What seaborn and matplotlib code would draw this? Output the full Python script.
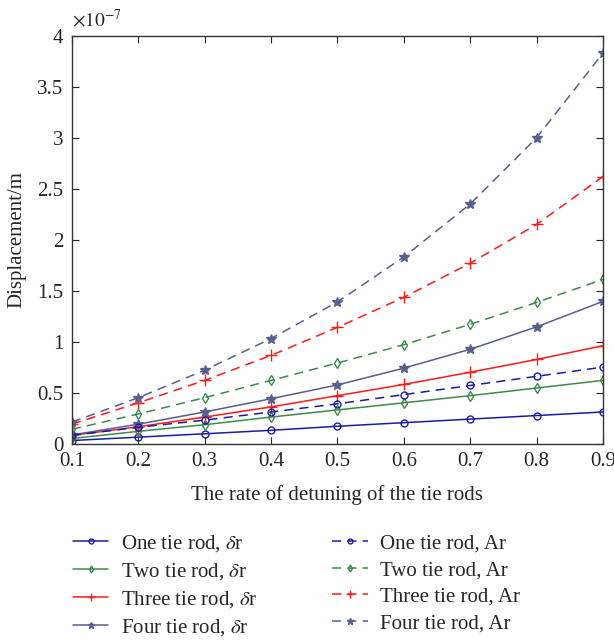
import pandas as pd
import seaborn as sns
import matplotlib
matplotlib.use('Agg')
import matplotlib.pyplot as plt

# detuning rate and displacement (units of 1e-7 m)
rate = [0.1, 0.2, 0.3, 0.4, 0.5, 0.6, 0.7, 0.8, 0.9]

one_dr = [0.03, 0.063, 0.096, 0.13, 0.17, 0.205, 0.24, 0.275, 0.31]
two_dr = [0.05, 0.12, 0.185, 0.26, 0.33, 0.40, 0.47, 0.545, 0.62]
three_dr = [0.08, 0.165, 0.26, 0.36, 0.47, 0.58, 0.70, 0.825, 0.96]
four_dr = [0.085, 0.19, 0.31, 0.44, 0.575, 0.74, 0.925, 1.145, 1.395]

one_ar = [0.08, 0.16, 0.23, 0.31, 0.39, 0.48, 0.57, 0.66, 0.75]
two_ar = [0.14, 0.29, 0.45, 0.62, 0.79, 0.97, 1.17, 1.385, 1.61]
three_ar = [0.19, 0.40, 0.62, 0.865, 1.14, 1.435, 1.77, 2.15, 2.62]
four_ar = [0.21, 0.45, 0.72, 1.03, 1.39, 1.83, 2.35, 3.00, 3.83]

names = ['One tie rod', 'Two tie rod', 'Three tie rod', 'Four tie rod']
colors = ['#1c1ca0', '#3d8a4e', '#ff1a1a', '#565f8e']
markers = ['o', 'd', '+', '*']
msizes = [5, 5, 8, 7]

sns.set_style('ticks')
plt.rcParams['font.family'] = ['Liberation Serif', 'DejaVu Serif']
plt.rcParams['mathtext.fontset'] = 'stix'
plt.rcParams['xtick.direction'] = 'in'
plt.rcParams['ytick.direction'] = 'in'

fig = plt.figure(figsize=(6.14, 6.41), dpi=100)
ax = fig.add_axes([0.117, 0.308, 0.865, 0.636])

for series, style, suffix in [([one_dr, two_dr, three_dr, four_dr], '-', r'$\delta$r'),
                              ([one_ar, two_ar, three_ar, four_ar], (0, (6, 4)), 'Ar')]:
    for i, vals in enumerate(series):
        df = pd.DataFrame({'rate': rate, 'disp': vals})
        filled = markers[i] == '*'
        sns.lineplot(data=df, x='rate', y='disp', ax=ax, color=colors[i],
                     linestyle=style, linewidth=1.1, marker=markers[i],
                     markersize=msizes[i], markeredgecolor=colors[i],
                     markerfacecolor=colors[i] if filled else 'none',
                     markeredgewidth=1.0, label=f'{names[i]}, {suffix}')

handles, labels = ax.get_legend_handles_labels()
if ax.get_legend() is not None:
    ax.get_legend().remove()

ax.set_xlim(0.1, 0.9)
ax.set_ylim(0, 4)
ax.set_xticks(rate)
ax.set_xticklabels([f'{r:g}' for r in rate])
ax.set_yticks([0, 0.5, 1, 1.5, 2, 2.5, 3, 3.5, 4])
ax.set_yticklabels(['0', '0.5', '1', '1.5', '2', '2.5', '3', '3.5', '4'])
ax.tick_params(top=True, right=True, labelsize=15, length=5, width=0.8, pad=6)
for s in ax.spines.values():
    s.set_linewidth(1.0)
    s.set_color('#333333')

ax.text(0.0, 1.012, r'$\times10^{-7}$', transform=ax.transAxes, fontsize=14,
        ha='left', va='bottom')
ax.set_xlabel('The rate of detuning of the tie rods', fontsize=15, labelpad=10)
ax.set_ylabel('Displacement/m', fontsize=15, labelpad=8)

fig.legend(handles, labels, loc='upper left', bbox_to_anchor=(0.105, 0.181),
           ncol=2, frameon=False, fontsize=15, handlelength=1.7,
           markerscale=0.7, columnspacing=3.6, labelspacing=0.33,
           handletextpad=0.6, borderaxespad=0)

fig.savefig('out.png', dpi=100)
